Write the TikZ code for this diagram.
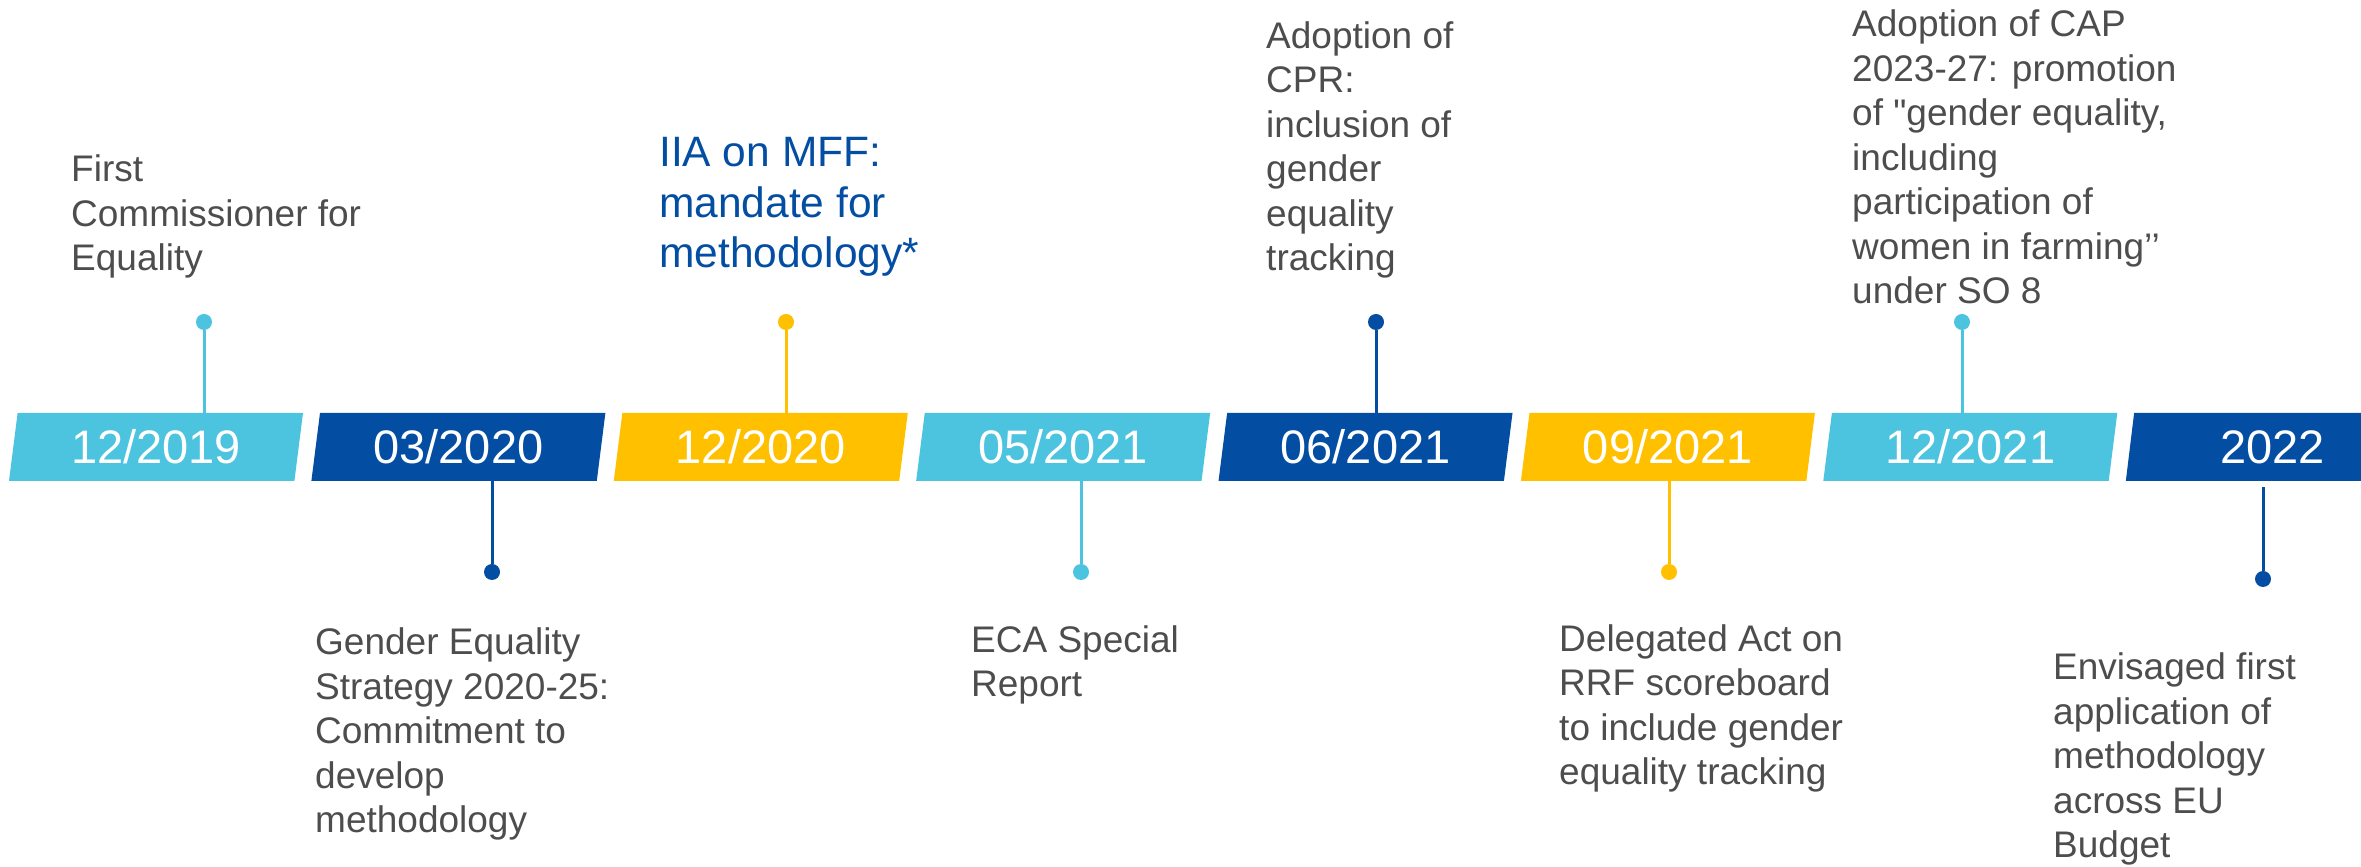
\documentclass[tikz,border=0pt]{standalone}
\usepackage{fontspec}
\setmainfont{Liberation Sans}[Ligatures=TeXOff]
\usepackage{xcolor}
\definecolor{euCyan}{HTML}{4DC4DF}
\definecolor{euBlue}{HTML}{034EA2}
\definecolor{euYellow}{HTML}{FFC000}
\definecolor{noteGray}{HTML}{4D4D4D}
\usepackage{tikz}
\usetikzlibrary{shapes.geometric, positioning}

\begin{document}
\begin{tikzpicture}[
    x=1pt, y=1pt,
    node distance=17pt,
    datebar/.style={
        trapezium,
        trapezium left angle=76,
        trapezium right angle=104,
        trapezium stretches body,
        minimum width=294pt,
        minimum height=68pt,
        inner sep=0pt,
        outer sep=0pt,
        text=white,
        font=\fontsize{47}{56}\selectfont
    },
    dot/.style={
        circle,
        inner sep=0pt,
        minimum size=16pt
    },
    stem/.style={line width=3pt},
    note/.style={
        anchor=base west,
        align=left,
        inner sep=0pt,
        text=noteGray,
        font=\fontsize{37}{44.5}\selectfont
    }
]
\useasboundingbox (0,0) rectangle (2361,867);

% Timeline
\node[datebar, fill=euCyan] (d1) at (156,420) {12/2019};
\node[datebar, fill=euBlue, right=of d1] (d2) {03/2020};
\node[datebar, fill=euYellow, right=of d2] (d3) {12/2020};
\node[datebar, fill=euCyan, right=of d3] (d4) {05/2021};
\node[datebar, fill=euBlue, right=of d4] (d5) {06/2021};
\node[datebar, fill=euYellow, right=of d5] (d6) {09/2021};
\node[datebar, fill=euCyan, right=of d6] (d7) {12/2021};
\node[datebar, fill=euBlue, right=of d7] (d8) {2022};

% Markers
\node[dot, fill=euCyan] (p1) at (204,545) {};
\node[dot, fill=euBlue] (p2) at (492,295) {};
\node[dot, fill=euYellow] (p3) at (786,545) {};
\node[dot, fill=euCyan] (p4) at (1081,295) {};
\node[dot, fill=euBlue] (p5) at (1376,545) {};
\node[dot, fill=euYellow] (p6) at (1669,295) {};
\node[dot, fill=euCyan] (p7) at (1962,545) {};
\node[dot, fill=euBlue] (p8) at (2263,288) {};

\draw[stem, euCyan] (p1) -- (p1 |- d1.north);
\draw[stem, euBlue] (p2) -- (p2 |- d2.south);
\draw[stem, euYellow] (p3) -- (p3 |- d3.north);
\draw[stem, euCyan] (p4) -- (p4 |- d4.south);
\draw[stem, euBlue] (p5) -- (p5 |- d5.north);
\draw[stem, euYellow] (p6) -- (p6 |- d6.south);
\draw[stem, euCyan] (p7) -- (p7 |- d7.north);
\draw[stem, euBlue, shorten >=6pt] (p8) -- (p8 |- d8.south);

% Events (anchored on the last line)
\node[note] (t1) at (71,596) {First\\Commissioner for\\Equality};
\node[note] (t2) at (315,34) {Gender Equality\\Strategy 2020-25:\\Commitment to\\develop\\methodology};
\node[note, text=euBlue, font=\fontsize{42.5}{50.5}\selectfont] (t3) at (659,599) {IIA on MFF:\\mandate for\\methodology*};
\node[note] (t4) at (971,170) {ECA Special\\Report};
\node[note] (t5) at (1266,596) {Adoption of\\CPR:\\inclusion of\\gender\\equality\\tracking};
\node[note] (t6) at (1559,82) {Delegated Act on\\RRF scoreboard\\to include gender\\equality tracking};
\node[note] (t7) at (1852,563) {Adoption of CAP\\2023-27: promotion\\of "gender equality,\\including\\participation of\\women in farming’’\\under SO 8};
\node[note] (t8) at (2053,9) {Envisaged first\\application of\\methodology\\across EU\\Budget};

\end{tikzpicture}
\end{document}
